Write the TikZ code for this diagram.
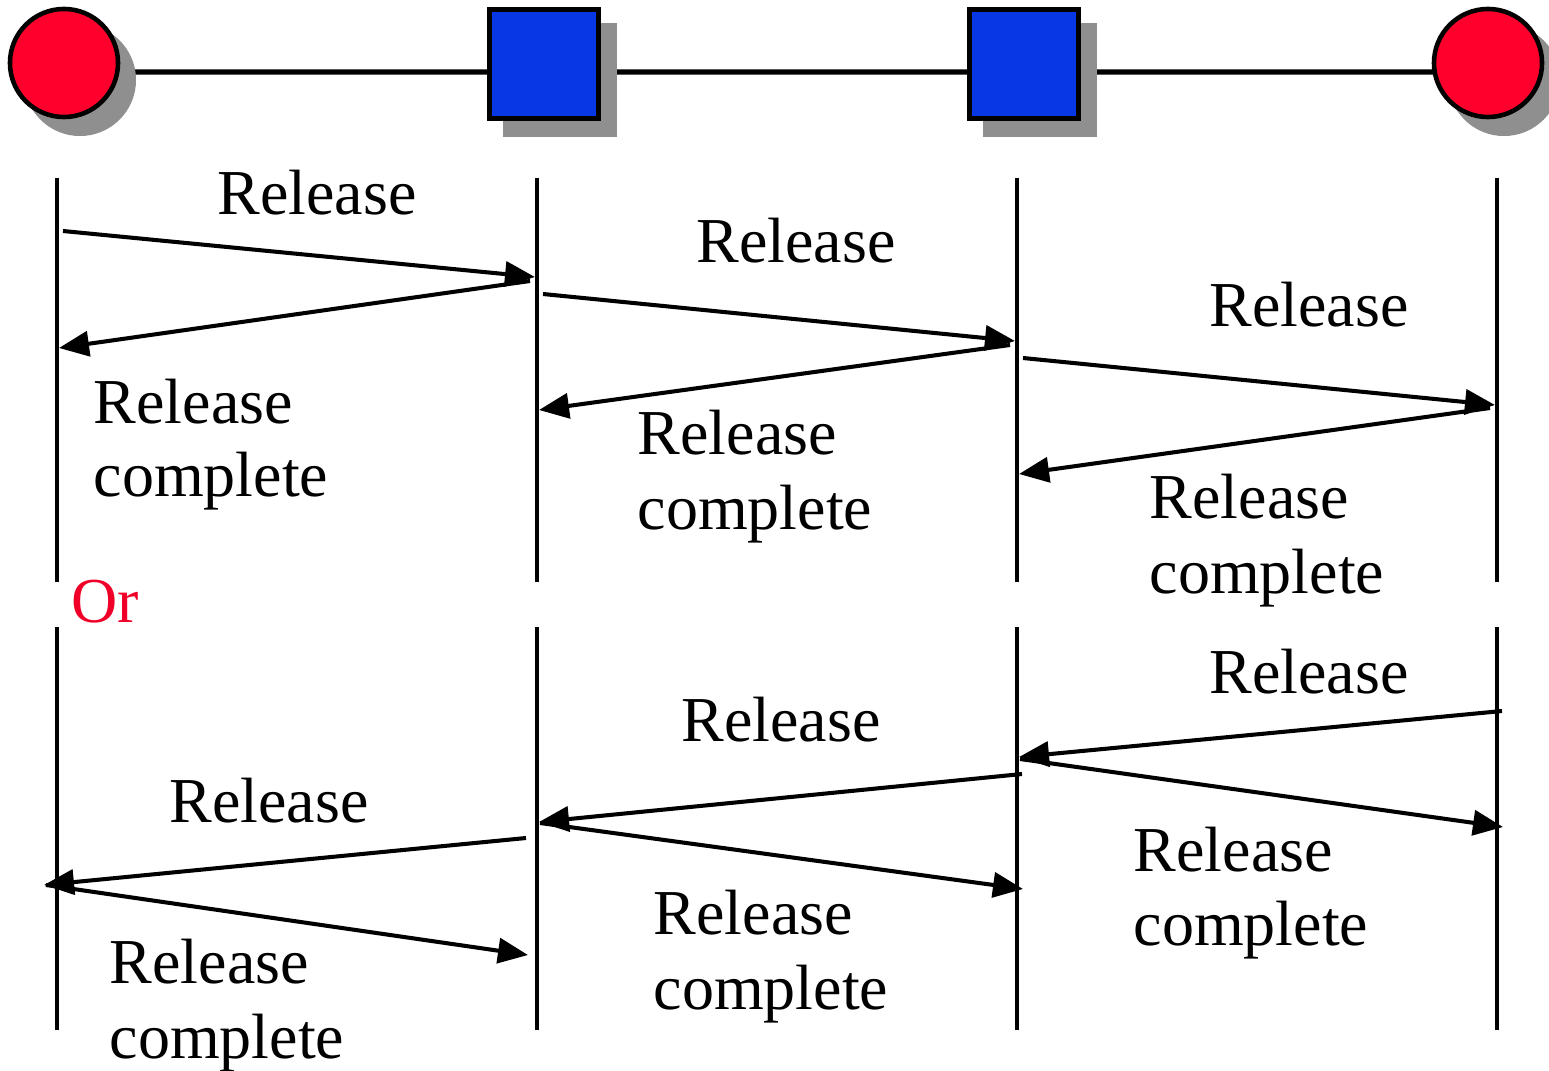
\documentclass[tikz,border=0pt]{standalone}
\usepackage{fontspec}
\setmainfont{Liberation Serif}
\usetikzlibrary{arrows.meta,backgrounds}
\definecolor{nodered}{RGB}{255,0,44}
\definecolor{nodeblue}{RGB}{8,56,230}
\definecolor{shadowgray}{RGB}{143,143,143}
\definecolor{ortext}{RGB}{240,0,40}
\tikzset{
  endpt/.style={circle,draw=black,line width=1.3pt,fill=nodered,minimum size=1.08cm,inner sep=0pt},
  relay/.style={rectangle,draw=black,line width=1.3pt,fill=nodeblue,minimum size=1.09cm,inner sep=0pt},
  shadowc/.style={circle,fill=shadowgray,minimum size=1.12cm,inner sep=0pt},
  shadows/.style={rectangle,fill=shadowgray,minimum size=1.13cm,inner sep=0pt},
  topline/.style={line width=1.5pt},
  lifeline/.style={line width=1.35pt},
  msg/.style={line width=1.15pt,-{Triangle[length=0.30cm,width=0.25cm]}},
  lbl/.style={font=\fontsize{18.2pt}{21.5pt}\selectfont,inner sep=0pt},
}
\begin{document}
\begin{tikzpicture}[x=0.01cm,y=-0.01cm]
\useasboundingbox (0,0) rectangle (1549,1070);
% top nodes
\node[endpt] (c1) at (64,63) {};
\node[relay] (s1) at (544,64) {};
\node[relay] (s2) at (1024,64) {};
\node[endpt] (c2) at (1488,63) {};
\begin{scope}[on background layer]
  \draw[topline] ([yshift=-0.09cm]c1.center) -- ([yshift=-0.08cm]s1.center)
    -- ([yshift=-0.08cm]s2.center) -- ([yshift=-0.09cm]c2.center);
  \node[shadowc] (c1sh) at (80,80) {};
  \node[shadows] (s1sh) at (560,80) {};
  \node[shadows] (s2sh) at (1040,80) {};
  \node[shadowc] (c2sh) at (1504,80) {};
\end{scope}
% lifelines
\foreach \i/\x in {1/57,2/537,3/1017,4/1497}{
  \coordinate (A\i) at (\x,178);
  \coordinate (B\i) at (\x,582);
  \coordinate (C\i) at (\x,627);
  \coordinate (D\i) at (\x,1030);
  \draw[lifeline] (A\i) -- (B\i);
  \draw[lifeline] (C\i) -- (D\i);
}
% upper messages
\coordinate (u1s) at (63,231);  \coordinate (u1e) at (535,277);
\coordinate (u2s) at (530,281); \coordinate (u2e) at (59,348);
\coordinate (u3s) at (543,294); \coordinate (u3e) at (1015,341);
\coordinate (u4s) at (1010,345);\coordinate (u4e) at (539,410);
\coordinate (u5s) at (1023,358);\coordinate (u5e) at (1495,405);
\coordinate (u6s) at (1490,408);\coordinate (u6e) at (1019,474);
\draw[msg] (u1s) -- (u1e);
\draw[msg] (u2s) -- (u2e);
\draw[msg] (u3s) -- (u3e);
\draw[msg] (u4s) -- (u4e);
\draw[msg] (u5s) -- (u5e);
\draw[msg] (u6s) -- (u6e);
\node[lbl,anchor=base] (t1) at (317,214) {Release};
\node[lbl,anchor=base] (t3) at (796,262) {Release};
\node[lbl,anchor=base] (t5) at (1309,326) {Release};
\node[lbl,anchor=base west] (t2a) at (93,423) {Release};
\node[lbl,anchor=base west] (t2b) at (93,496) {complete};
\node[lbl,anchor=base west] (t4a) at (637,454) {Release};
\node[lbl,anchor=base west] (t4b) at (637,529) {complete};
\node[lbl,anchor=base west] (t6a) at (1149,518) {Release};
\node[lbl,anchor=base west] (t6b) at (1149,593) {complete};
\node[lbl,anchor=base west,text=ortext] (or) at (71,622) {Or};
% lower messages
\coordinate (l1s) at (1502,711);\coordinate (l1e) at (1019,757);
\coordinate (l2s) at (1020,759);\coordinate (l2e) at (1503,827);
\coordinate (l3s) at (1022,774);\coordinate (l3e) at (539,822);
\coordinate (l4s) at (540,823); \coordinate (l4e) at (1023,889);
\coordinate (l5s) at (526,838); \coordinate (l5e) at (44,885);
\coordinate (l6s) at (46,885);  \coordinate (l6e) at (528,955);
\draw[msg] (l1s) -- (l1e);
\draw[msg] (l2s) -- (l2e);
\draw[msg] (l3s) -- (l3e);
\draw[msg] (l4s) -- (l4e);
\draw[msg] (l5s) -- (l5e);
\draw[msg] (l6s) -- (l6e);
\node[lbl,anchor=base] (b1) at (1309,693) {Release};
\node[lbl,anchor=base] (b3) at (781,741) {Release};
\node[lbl,anchor=base] (b5) at (269,822) {Release};
\node[lbl,anchor=base west] (b2a) at (1133,871) {Release};
\node[lbl,anchor=base west] (b2b) at (1133,945) {complete};
\node[lbl,anchor=base west] (b4a) at (653,934) {Release};
\node[lbl,anchor=base west] (b4b) at (653,1009) {complete};
\node[lbl,anchor=base west] (b6a) at (109,983) {Release};
\node[lbl,anchor=base west] (b6b) at (109,1058) {complete};
\end{tikzpicture}
\end{document}
